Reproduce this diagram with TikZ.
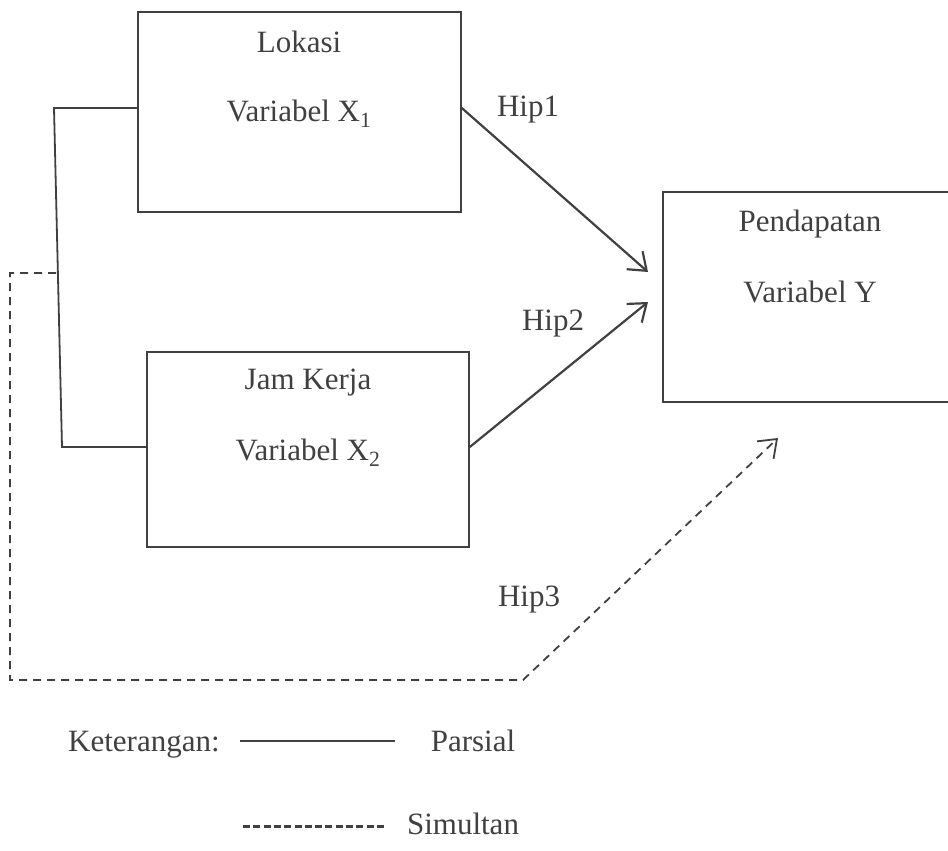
\documentclass[tikz,border=0pt]{standalone}
\usepackage{fontspec}
\setmainfont{Liberation Serif}
\usetikzlibrary{arrows.meta}
\definecolor{ink}{HTML}{404040}
\begin{document}
\begin{tikzpicture}[x=1pt,y=-1pt,
  box/.style={draw=ink, line width=1.6pt, rectangle, inner sep=0pt},
  lbl/.style={text=ink, font=\fontsize{31}{36}\selectfont, inner sep=0pt},
  conn/.style={draw=ink, line width=2.2pt},
  sim/.style={draw=ink, line width=1.8pt, dash pattern=on 8pt off 6pt},
  tip/.style={-{Straight Barb[length=16pt,width=24pt]}}
]
\useasboundingbox (0,0) rectangle (948,851);
% boxes
\node[box, minimum width=323pt, minimum height=200pt] (x1) at (299.5,112) {};
\node[box, minimum width=322pt, minimum height=195pt] (x2) at (308,449.5) {};
\node[box, minimum width=294pt, minimum height=210pt] (y) at (810,297) {};
% box texts
\node[lbl] (x1a) at (299,42) {Lokasi};
\node[lbl] (x1b) at (299,114) {Variabel X\textsubscript{1}};
\node[lbl] (x2a) at (308,383) {Jam Kerja};
\node[lbl] (x2b) at (308,453) {Variabel X\textsubscript{2}};
\node[lbl] (ya) at (810,224) {Pendapatan};
\node[lbl] (yb) at (810,292) {Variabel Y};
% hypothesis labels
\node[lbl] (h1) at (528,110) {Hip1};
\node[lbl] (h2) at (553,324) {Hip2};
\node[lbl] (h3) at (529,600) {Hip3};
% bracket
\coordinate (b1) at (54,108);
\coordinate (b2) at (62,447);
\draw[conn, line width=1.8pt] (x1.west |- b1) -- (b1) -- (b2) -- (x2.west |- b2);
% arrows
\coordinate (e1) at (648,272);
\coordinate (e2) at (648,302);
\coordinate (e3) at (778,438);
\draw[conn, tip] (x1.east |- b1) -- (e1);
\draw[conn, tip] (x2.east |- b2) -- (e2);
% simultaneous dashed path
\coordinate (d0) at (56,273);
\coordinate (d1) at (10,273);
\coordinate (d2) at (10,680);
\coordinate (d3) at (523,680);
\draw[sim, tip] (d0) -- (d1) -- (d2) -- (d3) -- (e3);
% legend
\node[lbl, anchor=base west] (ket) at (68,751) {Keterangan:};
\coordinate (ls1) at (240,741);
\coordinate (ls2) at (395,741);
\draw[draw=ink, line width=1.8pt] (ls1) -- (ls2);
\node[lbl, anchor=base] (par) at (473,751) {Parsial};
\coordinate (ld1) at (243,826);
\coordinate (ld2) at (387,826);
\draw[draw=ink, line width=3pt, dash pattern=on 7pt off 3.3pt] (ld1) -- (ld2);
\node[lbl, anchor=base] (sim) at (463,834) {Simultan};
\end{tikzpicture}
\end{document}
